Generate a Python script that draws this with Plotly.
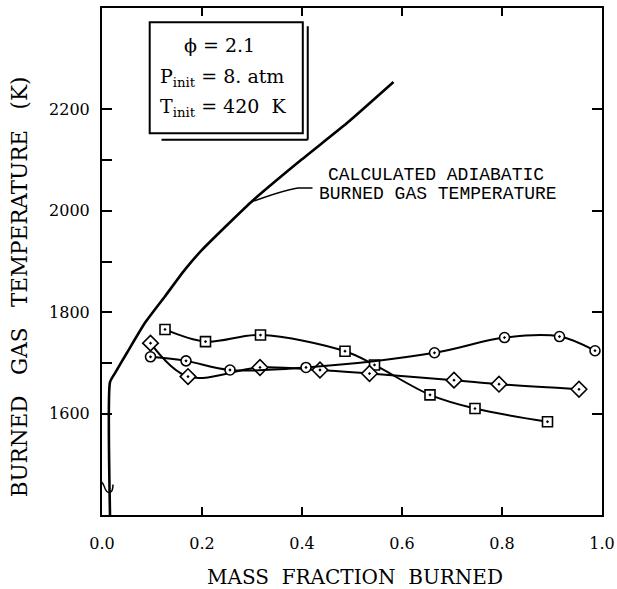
import plotly.graph_objects as go

# ---- data ----
adiabatic_x = [0.016, 0.016, 0.026, 0.05, 0.086, 0.125, 0.165, 0.2, 0.298, 0.398, 0.49, 0.583]
adiabatic_T = [1400, 1662, 1680, 1720, 1779, 1830, 1883, 1923, 2017, 2100, 2173, 2254]

square_x = [0.126, 0.207, 0.317, 0.486, 0.545, 0.656, 0.746, 0.891]
square_T = [1766, 1742, 1755, 1723, 1696, 1637, 1610, 1584]

diamond_x = [0.097, 0.172, 0.316, 0.436, 0.535, 0.704, 0.794, 0.954]
diamond_T = [1739, 1673, 1691, 1686, 1679, 1666, 1658, 1648]

circle_x = [0.097, 0.168, 0.256, 0.408, 0.665, 0.805, 0.915, 0.986]
circle_T = [1712, 1704, 1686, 1691, 1720, 1750, 1752, 1724]

x_ticks = [0.0, 0.2, 0.4, 0.6, 0.8, 1.0]
x_ticktext = ["0.0", "0.2", "0.4", "0.6", "0.8", "1.0"]
y_ticks = [1600, 1800, 2000, 2200]
y_ticktext = ["1600", "1800", "2000", "2200"]
y_minor_ticks = [1700, 1900, 2100]
y_ticks_right = [1600, 1800, 2000, 2200]
x_ticks_top = [0.2, 0.4, 0.6, 0.8]

SERIF = "DejaVu Serif"

fig = go.Figure()

fig.add_trace(go.Scatter(x=adiabatic_x, y=adiabatic_T, mode="lines",
                         line=dict(color="black", width=2.6, shape="spline", smoothing=0.5),
                         hoverinfo="skip"))

def series(xs, ys, sym, size):
    fig.add_trace(go.Scatter(
        x=xs, y=ys, mode="lines+markers",
        line=dict(color="black", width=2, shape="spline", smoothing=1.0),
        marker=dict(symbol=sym, size=size, color="white",
                    line=dict(color="black", width=1.6)),
        hoverinfo="skip"))

series(square_x, square_T, "square-dot", 10)
series(diamond_x, diamond_T, "diamond-dot", 12)
series(circle_x, circle_T, "circle-dot", 10)

# invisible trace to carry mirror axes
fig.add_trace(go.Scatter(x=[0.5], y=[1900], xaxis="x2", yaxis="y2", mode="markers",
                         marker=dict(opacity=0), hoverinfo="skip"))

fig.update_layout(
    width=617, height=589,
    margin=dict(l=102, r=15, t=8, b=74, autoexpand=False),
    paper_bgcolor="white", plot_bgcolor="white",
    showlegend=False,
    xaxis=dict(range=[0, 1], tickvals=x_ticks, ticktext=x_ticktext,
               ticks="inside", ticklen=8, tickwidth=1.5, tickcolor="black",
               showline=True, linewidth=2, linecolor="black", mirror=False,
               showgrid=False, zeroline=False, ticklabelstandoff=13,
               tickfont=dict(family=SERIF, size=16, color="black")),
    yaxis=dict(range=[1400, 2400], tickvals=y_ticks, ticktext=y_ticktext,
               ticks="inside", ticklen=10, tickwidth=1.5, tickcolor="black",
               minor=dict(tickvals=y_minor_ticks, ticks="inside", ticklen=10,
                          tickwidth=1.5, tickcolor="black", showgrid=False),
               showline=True, linewidth=2, linecolor="black", mirror=False,
               showgrid=False, zeroline=False, ticklabelstandoff=7,
               tickfont=dict(family=SERIF, size=16, color="black")),
    xaxis2=dict(overlaying="x", side="top", range=[0, 1], tickvals=x_ticks_top,
                ticks="inside", ticklen=8, tickwidth=1.5, tickcolor="black",
                showticklabels=False, showline=True, linewidth=2, linecolor="black",
                showgrid=False, zeroline=False),
    yaxis2=dict(overlaying="y", side="right", range=[1400, 2400], tickvals=y_ticks_right,
                ticks="inside", ticklen=10, tickwidth=1.5, tickcolor="black",
                showticklabels=False, showline=True, linewidth=2, linecolor="black",
                showgrid=False, zeroline=False),
)

# axis titles
fig.add_annotation(text="MASS\u00a0\u00a0FRACTION\u00a0\u00a0BURNED", xref="paper", yref="paper",
                   x=0.506, y=-0.122, xanchor="center", yanchor="middle", showarrow=False,
                   font=dict(family=SERIF, size=20, color="black"))
fig.add_annotation(text="BURNED\u00a0\u00a0\u00a0GAS\u00a0\u00a0\u00a0TEMPERATURE\u00a0\u00a0\u00a0(K)",
                   xref="paper", yref="paper",
                   x=-0.165, y=0.45, xanchor="center", yanchor="middle", showarrow=False,
                   textangle=-90, font=dict(family=SERIF, size=21.5, color="black"))

# curve label
fig.add_annotation(text="CALCULATED ADIABATIC", x=0.447, y=2071, xref="x", yref="y",
                   xanchor="left", yanchor="middle", showarrow=False,
                   font=dict(family="Liberation Mono", size=18, color="black"))
fig.add_annotation(text="BURNED GAS TEMPERATURE", x=0.429, y=2033, xref="x", yref="y",
                   xanchor="left", yanchor="middle", showarrow=False,
                   font=dict(family="Liberation Mono", size=18, color="black"))
fig.add_shape(type="path", xref="x", yref="y",
              path="M 0.298,2017 Q 0.36,2040 0.392,2045 L 0.421,2045",
              line=dict(color="black", width=1.5))

# parameter box with shadow
fig.add_shape(type="rect", xref="x", yref="y", x0=0.0954, x1=0.4016, y0=2153, y1=2372,
              line=dict(color="black", width=2), fillcolor="white")
fig.add_shape(type="line", xref="x", yref="y", x0=0.4115, x1=0.4115, y0=2140, y1=2364,
              line=dict(color="black", width=2))
fig.add_shape(type="line", xref="x", yref="y", x0=0.119, x1=0.4115, y0=2140, y1=2140,
              line=dict(color="black", width=2))
fig.add_annotation(text="\u03d5 = 2.1", x=0.16, y=2328, xref="x", yref="y",
                   xanchor="left", yanchor="middle", showarrow=False,
                   font=dict(family=SERIF, size=19, color="black"))
fig.add_annotation(text="P<sub>init</sub> = 8. atm", x=0.112, y=2262, xref="x", yref="y",
                   xanchor="left", yanchor="middle", showarrow=False,
                   font=dict(family=SERIF, size=19, color="black"))
fig.add_annotation(text="T<sub>init</sub> = 420  K", x=0.112, y=2203, xref="x", yref="y",
                   xanchor="left", yanchor="middle", showarrow=False,
                   font=dict(family=SERIF, size=19, color="black"))

# axis break squiggle
fig.add_shape(type="path", xref="x", yref="y",
              path="M -0.012,1450 C -0.012,1470 0.0,1470 0.005,1455 C 0.01,1440 0.022,1440 0.022,1460",
              line=dict(color="black", width=1.5))

fig.write_html("out.html",
               config={"displayModeBar": False},
               post_script="document.body.style.margin='0px';document.body.style.overflow='hidden';")
